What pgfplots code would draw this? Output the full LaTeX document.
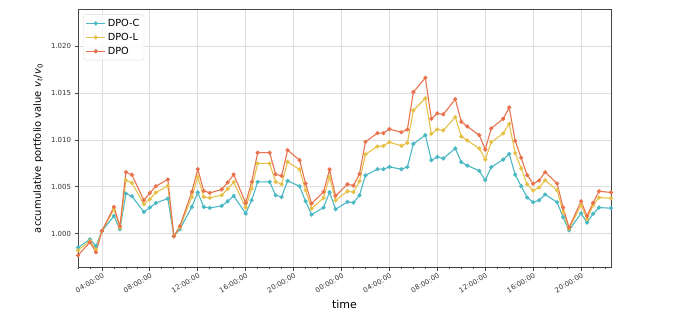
\documentclass[border=0pt]{standalone}
\usepackage{pgfplots}
\usepackage{pgfplotstable}
\pgfplotsset{compat=1.18}
\usepackage{fontspec}
\setmainfont{DejaVu Sans}
\definecolor{cC}{HTML}{4BB8C4}
\definecolor{cL}{HTML}{E6C14A}
\definecolor{cD}{HTML}{E8734E}
\definecolor{gridc}{HTML}{DDDDDD}
\definecolor{spine}{HTML}{444444}
\definecolor{tickc}{HTML}{333333}
\pgfplotstableread{
h C L D
2 0.99850 0.99821 0.99768
3 0.99939 0.99921 0.99907
3.5 0.99867 0.99832 0.99800
4 1.00028 1.00028 1.00028
5 1.00188 1.00260 1.00284
5.5 1.00046 1.00064 1.00078
6 1.00428 1.00570 1.00656
6.5 1.00399 1.00541 1.00627
7.5 1.00231 1.00313 1.00356
8 1.00278 1.00367 1.00434
8.5 1.00327 1.00439 1.00506
9.5 1.00374 1.00509 1.00578
10 0.99971 0.99971 0.99971
10.5 1.00046 1.00064 1.00078
11.5 1.00284 1.00391 1.00445
12 1.00439 1.00605 1.00688
12.5 1.00284 1.00391 1.00456
13 1.00274 1.00381 1.00434
14 1.00295 1.00410 1.00471
14.5 1.00345 1.00477 1.00546
15 1.00402 1.00549 1.00631
16 1.00214 1.00278 1.00327
16.5 1.00356 1.00481 1.00552
17 1.00552 1.00749 1.00864
18 1.00552 1.00749 1.00864
18.5 1.00410 1.00552 1.00634
19 1.00391 1.00527 1.00616
19.5 1.00563 1.00766 1.00891
20.5 1.00506 1.00685 1.00784
21 1.00345 1.00463 1.00535
21.5 1.00203 1.00267 1.00321
22.5 1.00278 1.00381 1.00445
23 1.00442 1.00605 1.00685
23.5 1.00260 1.00356 1.00402
24.5 1.00338 1.00452 1.00527
25 1.00330 1.00442 1.00513
25.5 1.00408 1.00559 1.00637
26 1.00621 1.00846 1.00980
27 1.00688 1.00930 1.01073
27.5 1.00688 1.00937 1.01073
28 1.00712 1.00976 1.01116
29 1.00688 1.00937 1.01083
29.5 1.00712 1.00969 1.01112
30 1.00958 1.01316 1.01511
31 1.01051 1.01444 1.01664
31.5 1.00784 1.01065 1.01226
32 1.00818 1.01113 1.01284
32.5 1.00802 1.01102 1.01273
33.5 1.00909 1.01244 1.01436
34 1.00763 1.01037 1.01194
34.5 1.00727 1.00995 1.01144
35.5 1.00670 1.00909 1.01051
36 1.00570 1.00791 1.00898
36.5 1.00709 1.00976 1.01123
37.5 1.00791 1.01070 1.01226
38 1.00851 1.01172 1.01348
38.5 1.00629 1.00859 1.00990
39 1.00506 1.00696 1.00809
39.5 1.00385 1.00527 1.00624
40 1.00335 1.00460 1.00533
40.5 1.00356 1.00492 1.00567
41 1.00417 1.00570 1.00656
42 1.00335 1.00463 1.00535
42.5 1.00174 1.00231 1.00278
43 1.00035 1.00053 1.00064
44 1.00217 1.00303 1.00345
44.5 1.00118 1.00156 1.00188
45 1.00210 1.00303 1.00327
45.5 1.00278 1.00385 1.00452
46.5 1.00271 1.00377 1.00439
}\data
\begin{document}
\begin{tikzpicture}
\path[use as bounding box] (0,0) rectangle (684bp,319bp);
\begin{axis}[
  at={(78bp,52bp)}, anchor=south west,
  scale only axis, width=533bp, height=257bp,
  xmin=2, xmax=46.5, ymin=0.99643, ymax=1.02388,
  axis line style={spine, line width=1bp},
  tick pos=left, tick align=outside,
  major tick length=3.5bp, minor tick length=2bp,
  every tick/.style={spine, line width=0.8bp},
  xtick={4,8,...,44},
  xticklabels={04:00:00,08:00:00,12:00:00,16:00:00,20:00:00,00:00:00,04:00:00,08:00:00,12:00:00,16:00:00,20:00:00},
  minor xtick={2,3,...,46},
  ytick={1.000,1.005,1.010,1.015,1.020},
  yticklabel style={/pgf/number format/.cd, fixed, fixed zerofill, precision=3, assume math mode=true},
  scaled y ticks=false,
  ticklabel style={font=\fontsize{7}{8}\selectfont, text=tickc},
  xticklabel style={rotate=30, anchor=north east, yshift=-1bp, inner sep=1bp},
  grid=major,
  major grid style={gridc, line width=0.8bp},
  every axis x label/.style={at={(axis description cs:0.5,-0.144)}, anchor=center},
  every axis y label/.style={at={(axis description cs:-0.075,0.461)}, anchor=center, rotate=90},
  xlabel={\fontsize{11}{13}\selectfont time},
  ylabel={\fontsize{10}{12}\selectfont accumulative portfolio value \textit{v}\textsubscript{\textit{t}}/\textit{v}\textsubscript{0}},
  legend cell align=left,
  legend image code/.code={\draw[mark repeat=2, mark phase=2] plot coordinates {(0bp,0bp) (9.5bp,0bp) (19bp,0bp)};},
  legend style={at={(axis description cs:0.0094,0.983)}, anchor=north west,
    draw=gridc, rounded corners=2.5bp, fill=white, fill opacity=0.8, text opacity=1,
    font=\fontsize{9.8}{11}\selectfont, row sep=1.2bp, inner sep=2.5bp},
  every axis plot/.append style={line width=1.1bp, mark=*, mark size=1.5bp},
]
\addplot[cC, mark options={fill=cC, draw=cC}] table[x=h, y=C] {\data};
\addlegendentry{DPO-C}
\addplot[cL, mark options={fill=cL, draw=cL}] table[x=h, y=L] {\data};
\addlegendentry{DPO-L}
\addplot[cD, mark options={fill=cD, draw=cD}] table[x=h, y=D] {\data};
\addlegendentry{DPO}
\end{axis}
\end{tikzpicture}
\end{document}
